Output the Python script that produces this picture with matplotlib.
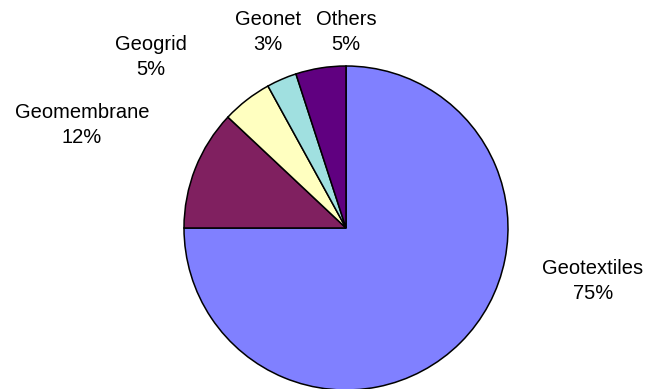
import matplotlib.pyplot as plt

labels = ["Geotextiles", "Geomembrane", "Geogrid", "Geonet", "Others"]
shares = [75, 12, 5, 3, 5]
colors = ["#8080FF", "#802060", "#FFFFC0", "#A0E0E0", "#600080"]

# where each label sits (pixels, origin bottom-left)
label_pos = [(593, 108), (82, 264), (151, 332), (268, 357), (346, 357)]

plt.rcParams['font.family'] = ['Liberation Sans', 'DejaVu Sans']

fig = plt.figure(figsize=(6.48, 3.89), dpi=100)
ax = fig.add_axes([0, 0, 1, 1])

ax.pie(shares, colors=colors, startangle=90, counterclock=False,
       center=(346, 161), radius=162,
       wedgeprops=dict(edgecolor='black', linewidth=1.1))

ax.set_xlim(0, 648)
ax.set_ylim(0, 389)
ax.set_aspect('equal')
ax.axis('off')

for name, val, (x, y) in zip(labels, shares, label_pos):
    ax.text(x, y, f"{name}\n{val}%", ha='center', va='center',
            fontsize=14.5, linespacing=1.35)

fig.savefig("out.png", dpi=100)
